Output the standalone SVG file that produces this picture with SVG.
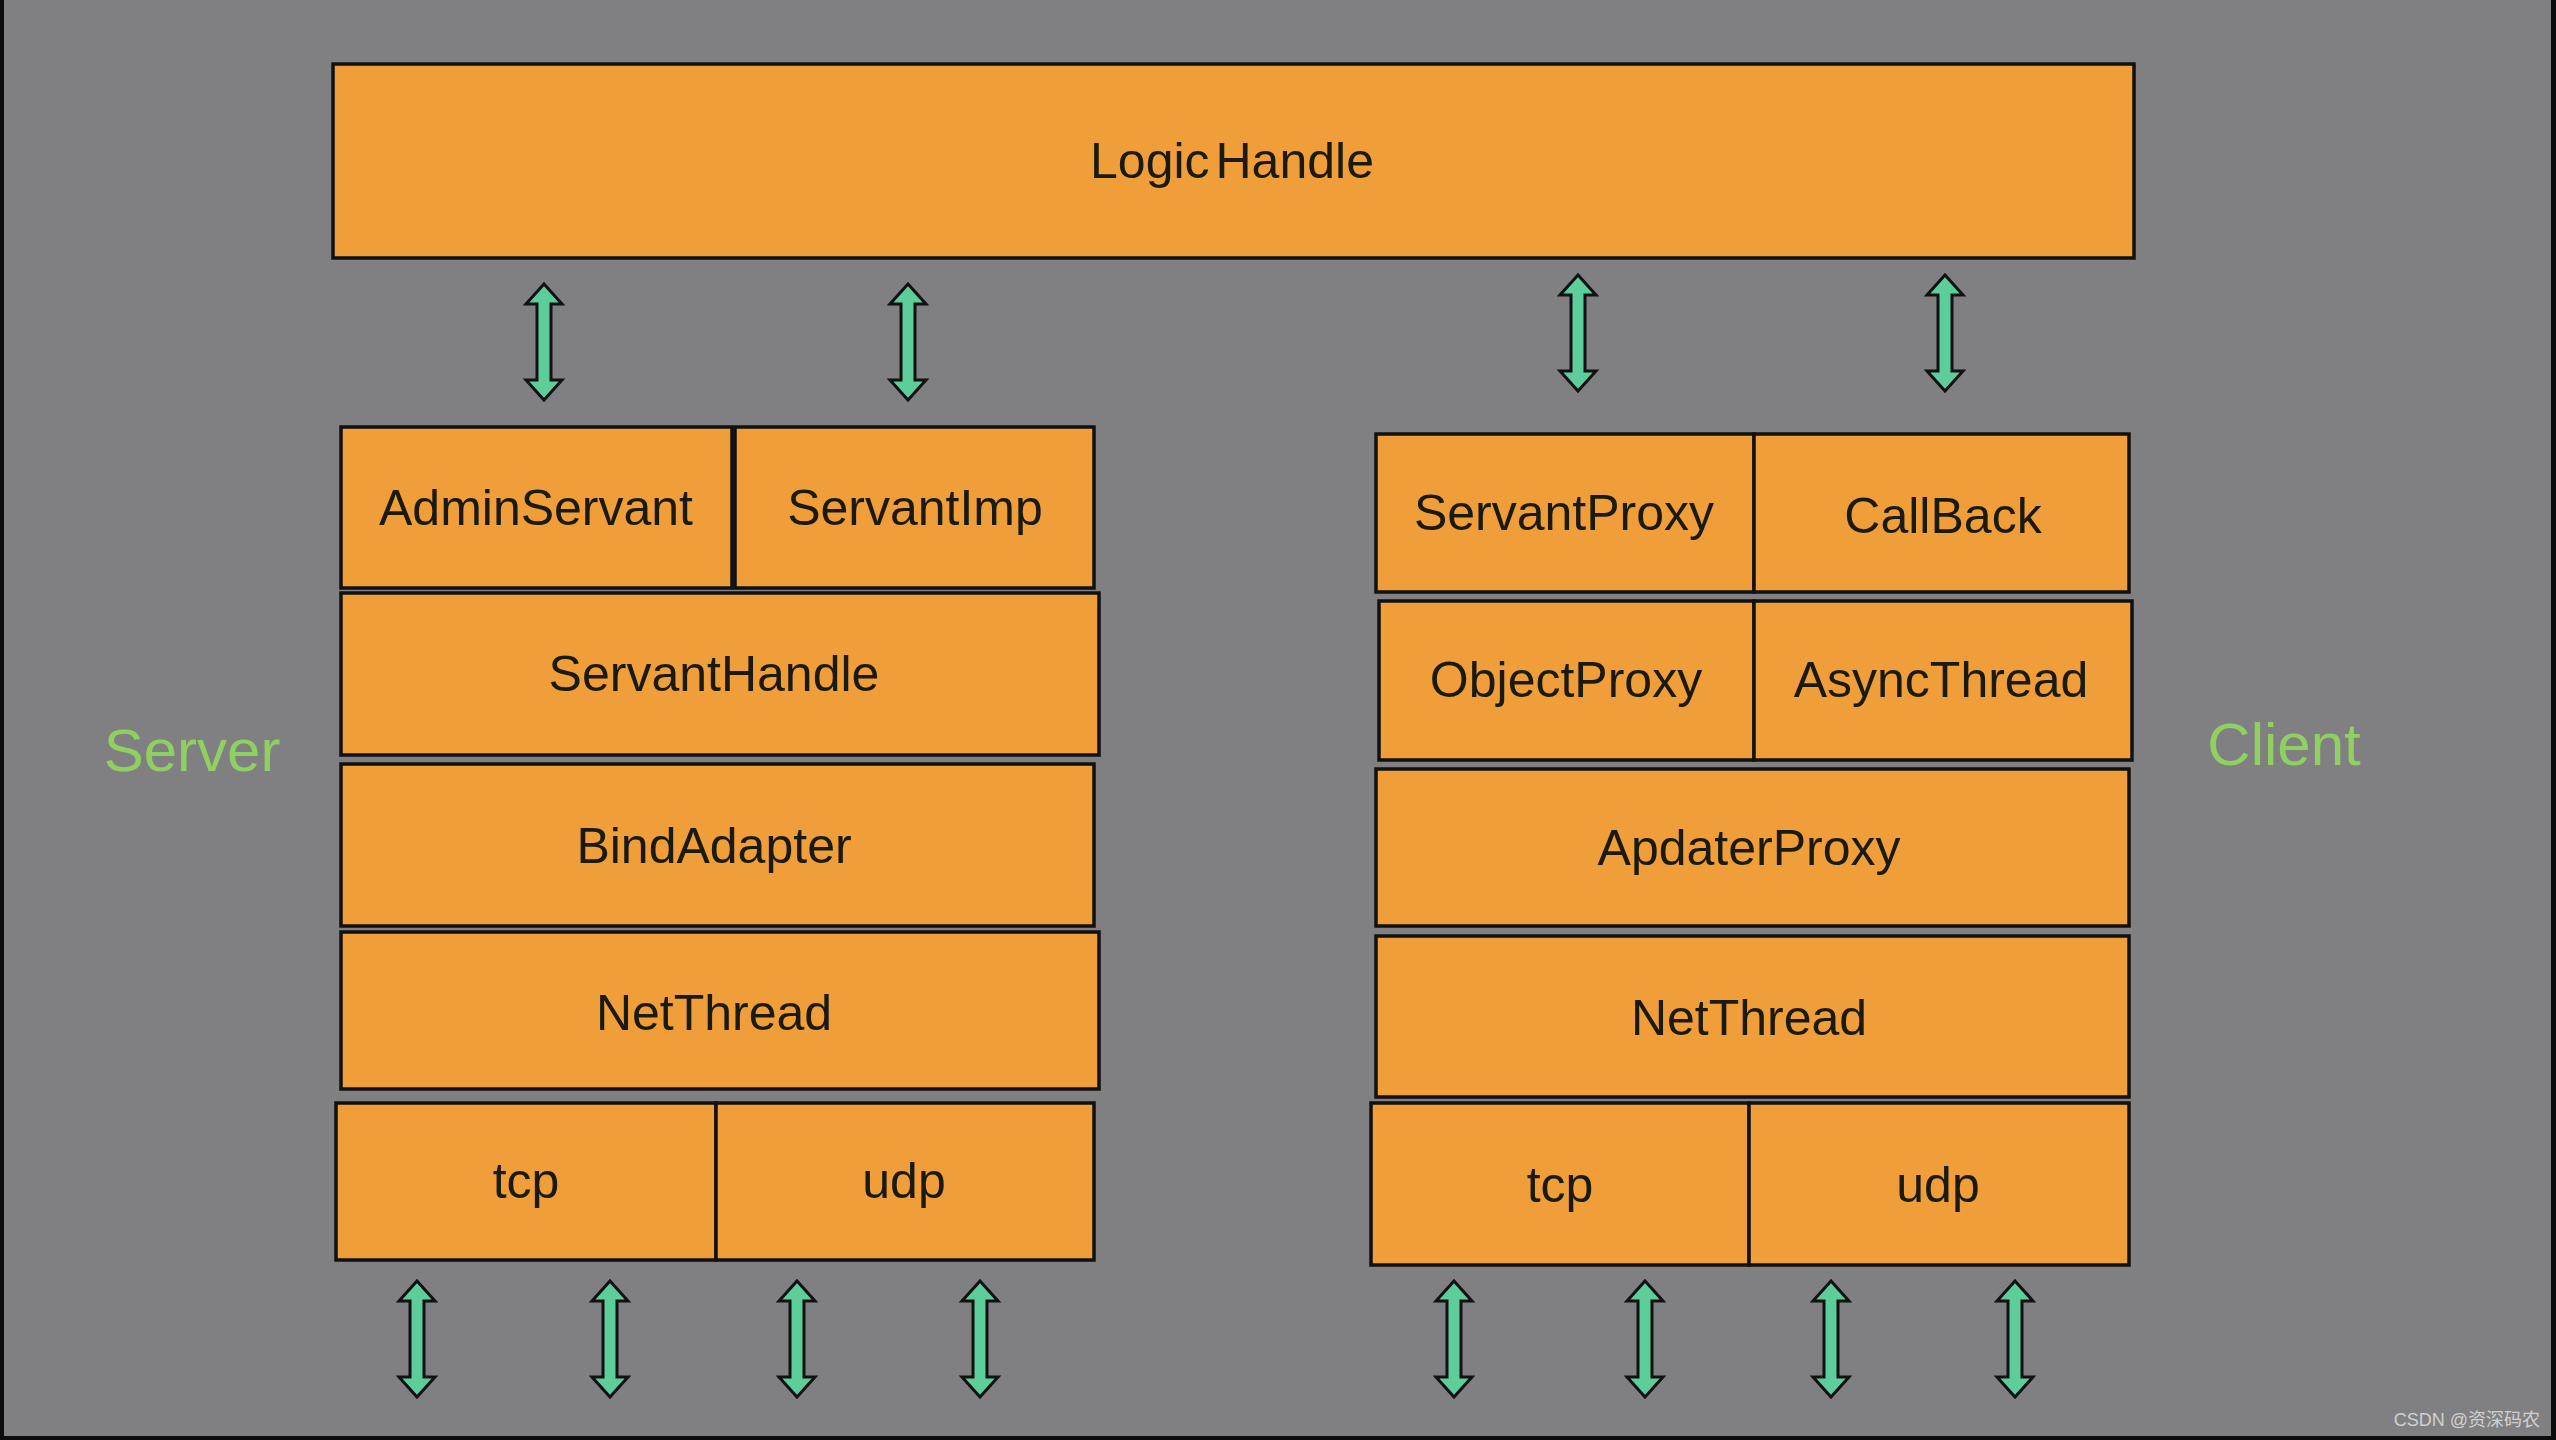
<svg xmlns="http://www.w3.org/2000/svg" width="2556" height="1440" viewBox="0 0 2556 1440">
<style>
.box{fill:#f09e3a;stroke:#111;stroke-width:3.5}
.lbl{font-family:"Liberation Sans",Arial,sans-serif;font-size:50px;fill:#1a1a10;text-anchor:middle;dominant-baseline:central}
.side{font-family:"Liberation Sans",Arial,sans-serif;font-size:60px;fill:#8fd060;text-anchor:middle;dominant-baseline:central}
.arr{fill:#5ccd9b;stroke:#111;stroke-width:3;stroke-linejoin:miter}
.wm{font-family:"Liberation Sans","Noto Sans CJK SC",sans-serif;font-size:18px;fill:#d0d0d0;text-anchor:end}
</style>
<defs>
<path id="dbl" d="M0,0 L18,20 L7,20 L7,96 L18,96 L0,116 L-18,96 L-7,96 L-7,20 L-18,20 Z"/>
</defs>
<rect x="0" y="0" width="2556" height="1440" fill="#808082"/>
<rect x="0" y="0" width="4" height="1440" fill="#0c0c0c"/>
<rect x="2551" y="0" width="5" height="1440" fill="#0c0c0c"/>
<rect x="0" y="1436" width="2556" height="4" fill="#0c0c0c"/>

<g id="logic-handle"><rect class="box" x="333" y="64" width="1801" height="194"/><text class="lbl" x="1232" y="161" word-spacing="-8">Logic Handle</text></g>

<g id="server-label"><text class="side" x="192" y="750">Server</text></g>
<g id="client-label"><text class="side" x="2284" y="744">Client</text></g>

<g id="admin-servant"><rect class="box" x="341" y="427" width="391" height="161"/><text class="lbl" x="536" y="508">AdminServant</text></g>
<g id="servant-imp"><rect class="box" x="735" y="427" width="359" height="161"/><text class="lbl" x="915" y="508">ServantImp</text></g>
<g id="servant-handle"><rect class="box" x="341" y="593" width="758" height="162"/><text class="lbl" x="714" y="674">ServantHandle</text></g>
<g id="bind-adapter"><rect class="box" x="341" y="764" width="753" height="162"/><text class="lbl" x="714" y="846">BindAdapter</text></g>
<g id="server-netthread"><rect class="box" x="341" y="932" width="758" height="157"/><text class="lbl" x="714" y="1013">NetThread</text></g>
<g id="server-tcp"><rect class="box" x="336" y="1103" width="380" height="157"/><text class="lbl" x="526" y="1181">tcp</text></g>
<g id="server-udp"><rect class="box" x="716" y="1103" width="378" height="157"/><text class="lbl" x="904" y="1181">udp</text></g>

<g id="servant-proxy"><rect class="box" x="1376" y="434" width="378" height="158"/><text class="lbl" x="1564" y="513">ServantProxy</text></g>
<g id="callback"><rect class="box" x="1754" y="434" width="375" height="158"/><text class="lbl" x="1943" y="516">CallBack</text></g>
<g id="object-proxy"><rect class="box" x="1379" y="601" width="375" height="159"/><text class="lbl" x="1566" y="680">ObjectProxy</text></g>
<g id="async-thread"><rect class="box" x="1754" y="601" width="378" height="159"/><text class="lbl" x="1941" y="680">AsyncThread</text></g>
<g id="adapter-proxy"><rect class="box" x="1376" y="769" width="753" height="157"/><text class="lbl" x="1749" y="848">ApdaterProxy</text></g>
<g id="client-netthread"><rect class="box" x="1376" y="936" width="753" height="161"/><text class="lbl" x="1749" y="1018">NetThread</text></g>
<g id="client-tcp"><rect class="box" x="1371" y="1103" width="378" height="162"/><text class="lbl" x="1560" y="1185">tcp</text></g>
<g id="client-udp"><rect class="box" x="1749" y="1103" width="380" height="162"/><text class="lbl" x="1938" y="1185">udp</text></g>

<g id="connectors">
<use href="#dbl" class="arr" x="544" y="284"/>
<use href="#dbl" class="arr" x="908" y="284"/>
<use href="#dbl" class="arr" x="1578" y="275"/>
<use href="#dbl" class="arr" x="1945" y="275"/>
<use href="#dbl" class="arr" x="417" y="1281"/>
<use href="#dbl" class="arr" x="610" y="1281"/>
<use href="#dbl" class="arr" x="797" y="1281"/>
<use href="#dbl" class="arr" x="980" y="1281"/>
<use href="#dbl" class="arr" x="1454" y="1281"/>
<use href="#dbl" class="arr" x="1645" y="1281"/>
<use href="#dbl" class="arr" x="1831" y="1281"/>
<use href="#dbl" class="arr" x="2015" y="1281"/>
</g>

<text class="wm" x="2540" y="1426">CSDN @资深码农</text>
</svg>
